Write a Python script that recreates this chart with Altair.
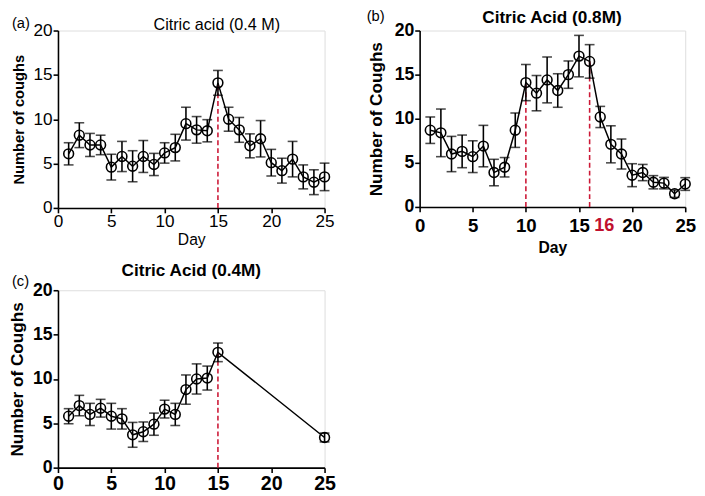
import altair as alt
import pandas as pd

FONT = "Liberation Sans"
RED = "#cc1836"

# Panel (a): Citric acid (0.4 M)
days_a = list(range(1, 26))
mean_a = [6.1, 8.2, 7.1, 7.1, 4.6, 5.8, 4.7, 5.8, 4.9, 6.2, 6.8, 9.5, 8.8, 8.7, 14.1,
          10.0, 8.8, 7.0, 7.8, 5.1, 4.2, 5.5, 3.5, 2.9, 3.5]
err_a = [1.25, 1.4, 1.3, 1.1, 1.45, 1.7, 1.75, 1.8, 1.25, 1.15, 1.5, 1.85, 1.5, 1.25, 1.4,
         1.35, 1.4, 1.35, 2.05, 1.5, 1.4, 2.0, 1.35, 1.4, 1.55]
red_a = [15]

# Panel (b): Citric Acid (0.8M)
days_b = list(range(1, 26))
mean_b = [8.7, 8.4, 6.0, 6.3, 5.7, 6.9, 3.9, 4.5, 8.7, 14.1, 12.9, 14.4, 13.2, 15.0, 17.1,
          16.5, 10.2, 7.1, 6.0, 3.6, 3.9, 2.8, 2.7, 1.5, 2.6]
err_b = [1.5, 2.7, 2.0, 1.85, 1.8, 2.35, 1.5, 1.1, 1.95, 2.05, 2.0, 2.6, 1.9, 1.55, 2.35,
         1.9, 1.2, 2.1, 1.7, 1.3, 0.92, 0.75, 0.65, 0.42, 0.72]
red_b = [10, 16]

# Panel (c): Citric Acid (0.4M)
days_c = [1, 2, 3, 4, 5, 6, 7, 8, 9, 10, 11, 12, 13, 14, 15, 25]
mean_c = [5.8, 7.0, 6.0, 6.7, 5.8, 5.5, 3.7, 4.05, 4.9, 6.6, 6.0, 8.8, 10.0, 10.1, 13.0, 3.4]
err_c = [0.85, 1.15, 1.25, 1.0, 1.45, 1.15, 1.4, 1.1, 1.25, 1.0, 1.25, 1.65, 1.7, 1.35, 1.05, 0.5]
red_c = [15]

x_ticks = [0, 5, 10, 15, 20, 25]
y_ticks = [0, 5, 10, 15, 20]


def panel(days, mean, err, red_days, title, label, ytitle, xtitle, cfg, extra=None):
    df = pd.DataFrame({"day": days, "mean": mean})
    df["lo"] = df["mean"] - pd.Series(err)
    df["hi"] = df["mean"] + pd.Series(err)
    rdf = df[df["day"].isin(red_days)].copy()
    rdf["zero"] = 0.0
    xaxis = alt.Axis(values=x_ticks, title=xtitle, grid=False, domainColor="black",
                     domainWidth=1.6, tickColor="black", tickWidth=1.6, tickSize=5,
                     labelFont=FONT, labelFontSize=cfg["xlab"], labelFontWeight=cfg["lw"],
                     labelColor="black", labelPadding=cfg["xpad"], titleFont=FONT,
                     titleFontSize=16, titleFontWeight=cfg["dw"],
                     titleColor="black", titlePadding=cfg["dpad"], labelFlush=False)
    yaxis = alt.Axis(values=y_ticks, title=ytitle, grid=False, domainColor="black",
                     domainWidth=1.6, tickColor="black", tickWidth=1.6, tickSize=5,
                     labelFont=FONT, labelFontSize=cfg["ylab"], labelFontWeight=cfg["lw"],
                     labelColor="black", labelPadding=1, titleFont=FONT,
                     titleFontSize=cfg["ytsize"], titleFontWeight="bold",
                     titleColor="black", titlePadding=cfg["ytpad"], labelFlush=False)
    X = alt.X("day:Q", scale=alt.Scale(domain=[0, 25], nice=False), axis=xaxis)
    Y = alt.Y("mean:Q", scale=alt.Scale(domain=[0, 20], nice=False), axis=yaxis)
    base = alt.Chart(df)
    redline = alt.Chart(rdf).mark_rule(color=RED, strokeDash=[5, 3], strokeWidth=1.6).encode(
        x=alt.X("day:Q"), y=alt.Y("zero:Q"), y2="mean:Q")
    line = base.mark_line(color="black", strokeWidth=1.5).encode(x=X, y=Y)
    bars = base.mark_rule(color="black", strokeWidth=1.6).encode(
        x="day:Q", y="lo:Q", y2="hi:Q")
    cap_hi = base.mark_tick(color="black", orient="horizontal", size=10, thickness=1.6).encode(
        x="day:Q", y="hi:Q")
    cap_lo = base.mark_tick(color="black", orient="horizontal", size=10, thickness=1.6).encode(
        x="day:Q", y="lo:Q")
    pts = base.mark_point(shape="circle", filled=False, color="black", size=100,
                          strokeWidth=1.6, opacity=1).encode(x="day:Q", y="mean:Q")
    lab = alt.Chart(pd.DataFrame({"t": [label]})).mark_text(
        font=FONT, fontSize=15, color="black", align="left", baseline="middle").encode(
        text="t:N", x=alt.value(cfg["lx"]), y=alt.value(cfg["ly"]))
    ttl = alt.Chart(pd.DataFrame({"t": [title]})).mark_text(
        font=FONT, fontSize=cfg["tsize"], fontWeight=cfg["tw"], color="black",
        align="center", baseline="middle").encode(
        text="t:N", x=alt.value(cfg["tx"]), y=alt.value(cfg["ty"]))
    layers = [line, redline, bars, cap_hi, cap_lo, pts, lab, ttl]
    if extra is not None:
        layers.append(extra)
    return alt.layer(*layers).properties(width=cfg["w"], height=cfg["h"])


cfg_a = dict(w=272, h=181, xlab=17.5, ylab=17.5, lw="normal", xpad=0, dw="normal", dpad=2,
             ytsize=15, ytpad=7, lx=-47, ly=-8, tx=162, ty=-6, tsize=16.5, tw="normal")
cfg_b = dict(w=271, h=180, xlab=19, ylab=18, lw="bold", xpad=5, dw="bold", dpad=4,
             ytsize=17.5, ytpad=9, lx=-54, ly=-15, tx=135, ty=-13, tsize=17.5, tw="bold")
cfg_c = dict(w=272, h=181, xlab=20, ylab=18, lw="bold", xpad=1, dw="bold", dpad=2,
             ytsize=17.5, ytpad=6, lx=-47, ly=-9, tx=136, ty=-20, tsize=17.5, tw="bold")

sixteen = alt.Chart(pd.DataFrame({"day": [16], "t": ["16"]})).mark_text(
    font=FONT, fontSize=18.5, fontWeight="bold", color="#c0102e", baseline="top", dx=15).encode(
    x="day:Q", y=alt.value(190), text="t:N")

pa = panel(days_a, mean_a, err_a, red_a, "Citric acid (0.4 M)", "(a)",
           "Number of coughs", "Day", cfg_a)
pb = panel(days_b, mean_b, err_b, red_b, "Citric Acid (0.8M)", "(b)",
           "Number of Coughs", "Day", cfg_b, extra=sixteen)
pc = panel(days_c, mean_c, err_c, red_c, "Citric Acid (0.4M)", "(c)",
           "Number of Coughs", None, cfg_c)

chart = alt.vconcat(
    alt.hconcat(pa, pb, spacing=31),
    pc, spacing=5
).properties(
    padding={"left": 0, "top": -5, "right": 0, "bottom": 0}
).configure_view(stroke=None).configure(background="white")

chart.save("out.html", embed_options={"renderer": "svg", "actions": False})
